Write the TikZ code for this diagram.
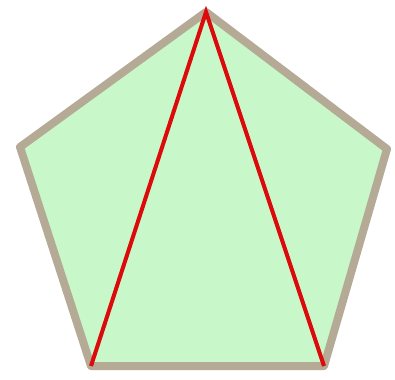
\documentclass[tikz,border=0pt]{standalone}
\usepackage{tikz}

\definecolor{padfill}{RGB}{200,248,202}
\definecolor{padrim}{RGB}{180,170,150}
\definecolor{chord}{RGB}{220,10,10}

\begin{document}
\begin{tikzpicture}[x=1pt,y=-1pt]
\useasboundingbox (0,0) rectangle (395,379);
\coordinate (top) at (206,12);
\coordinate (left) at (20,147);
\coordinate (right) at (387,149);
\coordinate (bl) at (91,366);
\coordinate (br) at (324,366);
\filldraw[fill=padfill,draw=padrim,line width=8pt,line join=round]
  (top) -- (right) -- (br) -- (bl) -- (left) -- cycle;
\draw[chord,line width=4pt] (bl) -- (top) -- (br);
\end{tikzpicture}
\end{document}
